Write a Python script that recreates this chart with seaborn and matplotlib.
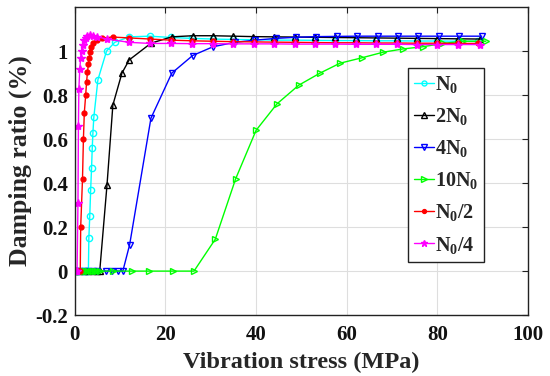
import numpy as np
import pandas as pd
import matplotlib
matplotlib.use("Agg")
import matplotlib.pyplot as plt
import seaborn as sns

# data (x: MPa, y: %)
x_n0 = [0, 0.5, 1, 1.5, 2, 2.5, 3.0, 3.1, 3.3, 3.5, 3.7, 3.85, 4.0, 4.2, 5.1, 7.0, 8.8, 12.0,
        16.6, 21.2, 25.8, 30.4, 35, 39.5, 44, 48.5, 53, 57.5, 62, 66.5, 71, 75.5, 80, 84.5, 89]
y_n0 = [0, 0, 0, 0, 0, 0, 0, 0.15, 0.25, 0.37, 0.47, 0.56, 0.63, 0.70, 0.87, 1.0, 1.04, 1.065,
        1.068, 1.062, 1.058, 1.055, 1.053, 1.052, 1.05, 1.05, 1.049, 1.048, 1.048, 1.047, 1.047,
        1.046, 1.046, 1.045, 1.045]

x_2n0 = [0, 1, 2, 3, 4, 5, 5.5, 7.1, 8.4, 10.4, 12.0, 16.8, 21.4, 26, 30.5, 35, 39.4, 44, 48.5,
         53, 57.5, 62, 66.5, 71, 75.5, 80, 84.5, 89.5]
y_2n0 = [0, 0, 0, 0, 0, 0, 0, 0.39, 0.755, 0.90, 0.96, 1.036, 1.065, 1.07, 1.07, 1.068, 1.066,
         1.065, 1.064, 1.063, 1.062, 1.061, 1.06, 1.059, 1.058, 1.057, 1.056, 1.055]

x_4n0 = [0, 1, 2, 3, 4, 5, 6.8, 8.2, 9.5, 10.6, 12.1, 16.8, 21.4, 26, 30.5, 35.3, 39.8, 44.4,
         48.8, 53.3, 57.8, 62.3, 66.8, 71.3, 75.8, 80.3, 84.8, 89.8]
y_4n0 = [0, 0, 0, 0, 0, 0, 0, 0, 0, 0, 0.12, 0.695, 0.90, 0.98, 1.02, 1.04, 1.05, 1.058,
         1.063, 1.066, 1.067, 1.068, 1.068, 1.068, 1.068, 1.068, 1.068, 1.068]

x_10n0 = [0, 0.5, 1, 1.5, 2, 2.5, 3, 3.5, 4, 4.5, 5, 5.5, 8.4, 12.6, 16.3, 21.6, 26.3, 31, 35.5,
          40, 44.6, 49.4, 54.1, 58.5, 63.4, 68, 72.4, 76.8, 81.2, 85.6, 90.7]
y_10n0 = [0, 0, 0, 0, 0, 0, 0, 0, 0, 0, 0, 0, 0, 0, 0, 0, 0, 0.145, 0.42,
          0.64, 0.76, 0.845, 0.90, 0.945, 0.97, 0.995, 1.01, 1.02, 1.035, 1.045, 1.045]

x_n0_2 = [0, 0.4, 0.8, 1.2, 1.3, 1.7, 1.9, 2.1, 2.4, 2.6, 2.8, 3.0, 3.2, 3.4, 3.6, 4.0, 4.9, 6.0,
          8.4, 12, 16.6, 21.2, 25.8, 30.4, 35, 39.5, 44, 48.5, 53, 57.5, 62, 66.5, 71, 75.5, 80,
          84.5, 89]
y_n0_2 = [0, 0, 0, 0, 0.2, 0.42, 0.60, 0.72, 0.80, 0.86, 0.905, 0.94, 0.97, 0.995, 1.02, 1.036,
          1.05, 1.06, 1.064, 1.06, 1.055, 1.05, 1.047, 1.045, 1.043, 1.042, 1.041, 1.04, 1.039,
          1.038, 1.038, 1.037, 1.037, 1.036, 1.036, 1.035, 1.035]

x_n0_4 = [0, 0.25, 0.5, 0.7, 0.8, 0.9, 1.1, 1.3, 1.5, 1.8, 2.0, 2.4, 2.8, 3.3, 4.0, 5.0, 7.0,
          12, 16.6, 21.2, 25.8, 30.4, 35, 39.5, 44, 48.5, 53, 57.5, 62, 66.5, 71, 75.5, 80, 84.5,
          89.4]
y_n0_4 = [0, 0, 0, 0.31, 0.66, 0.83, 0.92, 0.97, 1.0, 1.03, 1.05, 1.06, 1.07, 1.075, 1.07, 1.065,
          1.055, 1.04, 1.035, 1.035, 1.034, 1.034, 1.033, 1.033, 1.033, 1.032, 1.032, 1.032, 1.031,
          1.031, 1.031, 1.03, 1.03, 1.03, 1.03]

labels = [r'$\mathregular{N_0}$', r'$\mathregular{2N_0}$', r'$\mathregular{4N_0}$',
          r'$\mathregular{10N_0}$', r'$\mathregular{N_0/2}$', r'$\mathregular{N_0/4}$']
xs = [x_n0, x_2n0, x_4n0, x_10n0, x_n0_2, x_n0_4]
ys = [y_n0, y_2n0, y_4n0, y_10n0, y_n0_2, y_n0_4]
colors = ['#00ffff', '#000000', '#0000ff', '#00ff00', '#ff0000', '#ff00ff']
markers = ['o', '^', 'v', '>', 'o', '*']
msizes = [4.5, 5, 5, 5, 3.5, 6]
fills = ['none', 'none', 'none', 'none', '#ff0000', '#ff00ff']

sns.set_style('whitegrid')
plt.rcParams['font.family'] = ['Liberation Serif', 'DejaVu Serif']
plt.rcParams['font.weight'] = 'bold'
plt.rcParams['mathtext.fontset'] = 'custom'
plt.rcParams['mathtext.rm'] = 'Liberation Serif:bold'
plt.rcParams['mathtext.it'] = 'Liberation Serif:bold'
plt.rcParams['mathtext.bf'] = 'Liberation Serif:bold'

fig, ax = plt.subplots(figsize=(5.5, 3.76), dpi=100)
fig.subplots_adjust(left=0.136, right=0.96, top=0.981, bottom=0.162)

for x, y, lab, c, m, ms, fc in zip(xs, ys, labels, colors, markers, msizes, fills):
    df = pd.DataFrame({'x': x, 'y': y})
    sns.lineplot(data=df, x='x', y='y', ax=ax, color=c, marker=m, markersize=ms,
                 markerfacecolor=fc, markeredgecolor=c, markeredgewidth=1.0,
                 linewidth=1.0, sort=False, label=lab, estimator=None)

ax.set_xlim(0, 100)
ax.set_ylim(-0.2, 1.2)
ax.set_xticks([0, 20, 40, 60, 80, 100])
ax.set_yticks([-0.2, 0, 0.2, 0.4, 0.6, 0.8, 1.0])
ax.set_yticklabels(['-0.2', '0', '0.2', '0.4', '0.6', '0.8', '1'])
ax.set_xlabel('Vibration stress (MPa)', fontsize=17.5, fontweight='bold', labelpad=5)
ax.set_ylabel('Damping ratio (%)', fontsize=18.5, fontweight='bold', labelpad=2)
ax.grid(True, color='#dedede', linewidth=0.8)
for s in ax.spines.values():
    s.set_color('#222222')
    s.set_linewidth(1.0)
ax.tick_params(direction='in', top=True, right=True, length=4, width=0.8,
               labelsize=15, colors='#222222', labelcolor='#111111')
ax.tick_params(axis='x', pad=7)
ax.tick_params(axis='y', pad=5)
for t in ax.get_xticklabels() + ax.get_yticklabels():
    t.set_fontweight('bold')

leg = ax.legend(loc='upper left', bbox_to_anchor=(0.735, 0.802), fontsize=14.5,
                frameon=True, fancybox=False, framealpha=1, edgecolor='#222222',
                handlelength=1.0, handletextpad=0.05, borderpad=0.3, labelspacing=0.55,
                borderaxespad=0, markerscale=0.8)
leg.get_frame().set_linewidth(1.0)

fig.savefig('out.png', dpi=100)
